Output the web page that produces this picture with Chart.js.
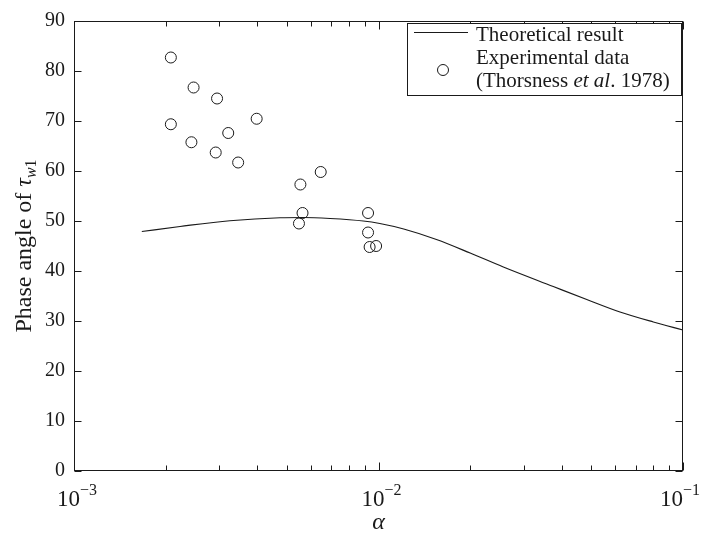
<!DOCTYPE html>
<html>
<head>
<meta charset="utf-8">
<script src="https://cdn.jsdelivr.net/npm/chart.js@4/dist/chart.umd.min.js"></script>
<style>
  body { margin: 0; background: #fff; }
  #wrap { width: 701px; height: 535px; }
</style>
</head>
<body>
<div id="wrap"><canvas id="stage" width="701" height="535"></canvas></div>
<script>
// theoretical phase angle curve
const theoryAlpha = [0.00167, 0.00223, 0.00325, 0.00475, 0.00566, 0.00693, 0.00891, 0.0101,
  0.0121, 0.0155, 0.0200, 0.0257, 0.0375, 0.0483, 0.0621, 0.0799, 0.1];
const theoryPhase = [47.9, 48.9, 50.05, 50.65, 50.7, 50.5, 50.0, 49.5,
  48.4, 46.3, 43.6, 40.8, 36.9, 34.3, 31.8, 29.8, 28.2];

// experimental data (Thorsness et al. 1978)
const expAlpha = [0.00208, 0.00247, 0.00295, 0.00208, 0.00398, 0.00321, 0.00243, 0.00292, 0.00346,
  0.00646, 0.00554, 0.00563, 0.00548, 0.00924, 0.00924, 0.00935, 0.00982];
const expPhase = [82.7, 76.7, 74.5, 69.35, 70.45, 67.6, 65.75, 63.7, 61.7,
  59.8, 57.3, 51.6, 49.5, 51.6, 47.7, 44.8, 45.0];

const xDecades = [0.001, 0.01, 0.1];
const yTicks = [0, 10, 20, 30, 40, 50, 60, 70, 80, 90];

const SERIF = '"Liberation Serif", "Times New Roman", serif';
const INK = '#1a1a1a';

function font(size, italic) {
  return (italic ? 'italic ' : '') + size + 'px ' + SERIF;
}

// draws a run of [text, font, dy] pieces starting at x
function drawRun(ctx, parts, x, y) {
  parts.forEach(p => {
    ctx.font = p[1];
    ctx.fillText(p[0], x, y + (p[2] || 0));
    x += ctx.measureText(p[0]).width;
  });
  return x;
}
function runWidth(ctx, parts) {
  let w = 0;
  parts.forEach(p => { ctx.font = p[1]; w += ctx.measureText(p[0]).width; });
  return w;
}

// box, inward ticks, log tick labels, titles and legend
const framePlugin = {
  id: 'frame',
  afterDraw(chart) {
    const ctx = chart.ctx;
    const a = chart.chartArea;
    const xs = chart.scales.x;
    const ys = chart.scales.y;
    ctx.save();
    ctx.strokeStyle = INK;
    ctx.fillStyle = INK;
    ctx.lineWidth = 1;

    const L = Math.round(a.left) + 0.5, R = Math.round(a.right) - 0.5;
    const T = Math.round(a.top) + 0.5, B = Math.round(a.bottom) - 0.5;
    ctx.strokeRect(L, T, R - L, B - T);

    ctx.beginPath();
    xDecades.forEach(d => {
      for (let m = 1; m <= 9; m++) {
        const v = m * d;
        if (v < xs.min * 0.999 || v > xs.max * 1.001) continue;
        const px = Math.round(xs.getPixelForValue(v)) + 0.5;
        const len = m === 1 ? 8 : 5;
        ctx.moveTo(px, B); ctx.lineTo(px, B - len);
        ctx.moveTo(px, T); ctx.lineTo(px, T + len);
      }
    });
    yTicks.forEach(v => {
      const py = Math.round(ys.getPixelForValue(v)) + 0.5;
      ctx.moveTo(L, py); ctx.lineTo(L + 7, py);
      ctx.moveTo(R, py); ctx.lineTo(R - 7, py);
    });
    ctx.stroke();

    // x tick labels 10^n, kept inside the canvas
    ctx.textBaseline = 'alphabetic';
    ctx.textAlign = 'left';
    xDecades.forEach(d => {
      const e = Math.round(Math.log10(d));
      const parts = [['10', font(23)], ['\u2212' + Math.abs(e), font(16), -11]];
      const w = runWidth(ctx, parts);
      const px = xs.getPixelForValue(d);
      const x0 = Math.min(px - w / 2 + 3, chart.width - w - 1);
      drawRun(ctx, parts, x0, 506);
    });

    // x title
    ctx.font = font(24, true);
    ctx.textAlign = 'center';
    ctx.fillText('\u03b1', (a.left + a.right) / 2, 529);

    // y title, rotated
    ctx.save();
    ctx.translate(31, (a.top + a.bottom) / 2);
    ctx.rotate(-Math.PI / 2);
    ctx.textAlign = 'left';
    const yParts = [['Phase angle of ', font(24)], ['\u03c4', font(24, true)],
      ['w', font(16, true), 5], ['1', font(16), 5]];
    const yw = runWidth(ctx, yParts);
    drawRun(ctx, yParts, -yw / 2, 0);
    ctx.restore();

    // legend
    ctx.fillStyle = '#fff';
    ctx.fillRect(407.5, 23.5, 274, 72);
    ctx.fillStyle = INK;
    ctx.strokeRect(407.5, 23.5, 274, 72);
    ctx.lineWidth = 1.2;
    ctx.beginPath();
    ctx.moveTo(414, 32.5); ctx.lineTo(468, 32.5);
    ctx.stroke();
    ctx.lineWidth = 1;
    ctx.beginPath();
    ctx.arc(443, 70, 5.5, 0, Math.PI * 2);
    ctx.stroke();
    ctx.textAlign = 'left';
    ctx.textBaseline = 'alphabetic';
    drawRun(ctx, [['Theoretical result', font(21)]], 476, 41);
    drawRun(ctx, [['Experimental data', font(21)]], 476, 64);
    drawRun(ctx, [['(Thorsness ', font(21)], ['et al', font(21, true)], ['. 1978)', font(21)]], 476, 87);
    ctx.restore();
  }
};

const theoryPoints = theoryAlpha.map((x, i) => ({ x: x, y: theoryPhase[i] }));
const expPoints = expAlpha.map((x, i) => ({ x: x, y: expPhase[i] }));

const ctx = document.getElementById('stage').getContext('2d');
const chart = new Chart(ctx, {
  type: 'scatter',
  data: {
    datasets: [{
      label: 'Theoretical result',
      data: theoryPoints,
      showLine: true,
      borderColor: INK,
      borderWidth: 1.2,
      pointRadius: 0,
      cubicInterpolationMode: 'monotone',
      fill: false
    }, {
      label: 'Experimental data',
      data: expPoints,
      showLine: false,
      pointStyle: 'circle',
      pointRadius: 5.5,
      borderWidth: 1,
      borderColor: INK,
      backgroundColor: 'rgba(0,0,0,0)'
    }]
  },
  options: {
    responsive: false,
    animation: false,
    layout: { padding: { top: 12, right: 18, left: 0, bottom: 0 } },
    plugins: {
      legend: { display: false },
      tooltip: { enabled: false }
    },
    scales: {
      x: {
        type: 'logarithmic',
        min: 0.001,
        max: 0.1,
        grid: { display: false, drawTicks: false },
        border: { display: false },
        ticks: { display: false },
        afterFit: s => { s.height = 64; }
      },
      y: {
        min: 0,
        max: 90,
        grid: { display: false, drawTicks: false },
        border: { display: false },
        ticks: {
          stepSize: 10,
          padding: 9,
          color: INK,
          font: { family: SERIF, size: 20 }
        },
        afterFit: s => { s.width = 74; }
      }
    }
  },
  plugins: [framePlugin]
});
</script>
</body>
</html>
